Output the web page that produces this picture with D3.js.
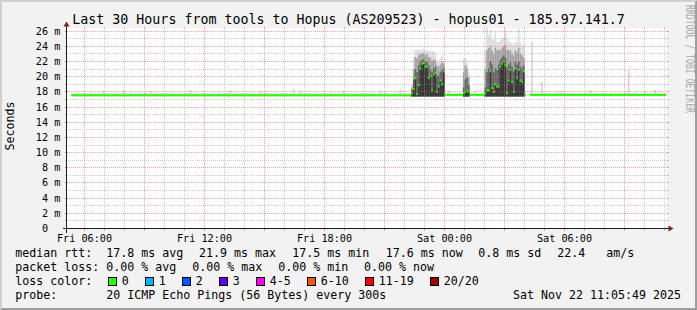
<!DOCTYPE html>
<html><head><meta charset="utf-8">
<script src="https://cdn.jsdelivr.net/npm/d3@7"></script>
<style>
html,body{margin:0;padding:0;background:#f2f2f2;}
svg{display:block;}
text{font-family:"DejaVu Sans Mono",monospace;white-space:pre;}
</style></head><body>
<svg id="chart" width="697" height="310"></svg>
<script>
// ---------------- data ----------------
const chartTitle = "Last 30 Hours from tools to Hopus (AS209523) - hopus01 - 185.97.141.7";
const yAxisTitle = "Seconds";
const watermark = "RRDTOOL / TOBI OETIKER";
const timeStart = "2025-11-21 05:05:49";
const timeEnd = "2025-11-22 11:05:49";
const stepSeconds = 300;
const yMaxMs = 26.35;
const yMajorTicks = [0, 2, 4, 6, 8, 10, 12, 14, 16, 18, 20, 22, 24, 26];
const yTickLabels = ["0  ", "2 m", "4 m", "6 m", "8 m", "10 m", "12 m", "14 m", "16 m", "18 m", "20 m", "22 m", "24 m", "26 m"];
const xLabelTimes = ["2025-11-21 06:00:00", "2025-11-21 12:00:00", "2025-11-21 18:00:00", "2025-11-22 00:00:00", "2025-11-22 06:00:00"];

// calm periods: one steady median and a thin smoke band
const calmFrom   = ["2025-11-21 05:20:00", "2025-11-22 00:00:00", "2025-11-22 01:15:00", "2025-11-22 04:00:00", "2025-11-22 04:15:00"];
const calmTo     = ["2025-11-21 22:20:00", "2025-11-22 00:55:00", "2025-11-22 02:00:00", "2025-11-22 04:05:00", "2025-11-22 11:05:00"];
const calmMedian = [17.55, 17.6, 17.6, 17.6, 17.6];
const calmMin    = [17.4, 17.4, 17.4, 17.4, 17.4];
const calmMax    = [17.85, 17.85, 17.85, 17.85, 17.85];

// single samples in calm periods with a higher max ping
const blipTimes = ["2025-11-21 06:55:00", "2025-11-21 07:55:00", "2025-11-21 09:15:00", "2025-11-21 11:15:00",
  "2025-11-21 13:15:00", "2025-11-21 14:45:00", "2025-11-21 16:25:00", "2025-11-21 16:45:00",
  "2025-11-21 18:55:00", "2025-11-21 20:45:00", "2025-11-21 21:45:00", "2025-11-22 00:10:00",
  "2025-11-22 01:30:00", "2025-11-22 04:20:00", "2025-11-22 04:50:00", "2025-11-22 05:45:00",
  "2025-11-22 07:15:00", "2025-11-22 09:10:00", "2025-11-22 10:00:00", "2025-11-22 10:30:00"];
const blipMax = [18.2, 18.2, 18.1, 18.3, 18.2, 18.1, 18.4, 18.2, 18.2, 18.2, 18.3, 18.2, 18.1, 24.6, 19.3, 18.1, 18.2, 20.9, 18.1, 18.3];

// high-latency bursts, 5-minute samples
const burstStart = ["2025-11-21 22:20:00", "2025-11-22 00:55:00", "2025-11-22 02:00:00"];
const burstMin = 17.4;
const burstMedian = [
  [17.8, 18.4, 19.8, 17.7, 18.9, 21.1, 21.7, 21.8, 21.3, 21.3, 19.8, 20.1, 18.2, 20.3, 20.5, 18.0, 18.7, 19.5, 19.0, 20.7],
  [17.8, 18.0, 18.2, 18.0],
  [17.8, 18.2, 18.2, 20.7, 18.5, 18.0, 19.0, 18.7, 18.7, 21.3, 21.7, 22.0, 21.5, 17.8, 19.5, 20.9, 19.3, 18.0, 21.1, 19.8, 20.9, 19.5, 19.3, 20.7]];
const burstQ75 = [
  [18.3, 19.6, 21.0, 20.6, 21.5, 22.0, 22.2, 22.3, 22.0, 22.0, 21.5, 21.0, 20.6, 21.1, 21.3, 20.0, 20.2, 20.6, 20.9, 21.1],
  [18.6, 19.6, 19.9, 18.9],
  [18.6, 20.6, 21.1, 22.0, 21.6, 20.6, 21.1, 20.9, 21.6, 22.2, 22.5, 22.8, 22.5, 21.1, 21.6, 21.9, 21.3, 20.6, 22.0, 21.6, 22.0, 21.3, 21.1, 21.5]];
const burstQ90 = [
  [18.6, 21.0, 22.6, 22.4, 22.8, 23.0, 23.0, 23.1, 22.8, 23.0, 22.6, 22.5, 22.1, 22.3, 22.1, 21.5, 21.3, 21.6, 21.9, 21.7],
  [20.6, 21.5, 21.1, 19.9],
  [21.0, 23.5, 23.8, 24.0, 23.5, 23.0, 23.8, 23.5, 23.6, 23.5, 23.8, 24.0, 24.2, 23.5, 23.5, 23.5, 23.0, 22.8, 23.5, 23.2, 23.8, 23.0, 22.8, 22.5]];
const burstMax = [
  [19.0, 22.6, 23.5, 23.6, 23.5, 23.6, 23.5, 23.7, 23.5, 23.6, 23.4, 23.5, 23.3, 23.4, 23.1, 22.1, 21.9, 22.4, 22.8, 22.1],
  [22.4, 22.5, 21.8, 20.6],
  [23.5, 26.6, 25.5, 26.2, 25.0, 24.8, 25.9, 24.6, 24.5, 24.8, 25.0, 25.2, 26.1, 25.0, 24.6, 24.5, 24.4, 24.2, 24.5, 24.6, 26.5, 24.5, 24.0, 24.3]];

// legend
const rttNames = ["avg", "max", "min", "now", "sd"];
const rttValues = [17.8, 21.9, 17.5, 17.6, 0.8];
const amsValue = 22.4;
const lossNames = ["avg", "max", "min", "now"];
const lossValues = [0.00, 0.00, 0.00, 0.00];
const lossLabels = ["0", "1", "2", "3", "4-5", "6-10", "11-19", "20/20"];
const lossColors = ["#26ff00", "#00b8ff", "#0059ff", "#5e00ff", "#ff00ff", "#ff5500", "#ff0000", "#a10000"];
const probeText = "20 ICMP Echo Pings (56 Bytes) every 300s";

// ---------------- drawing ----------------
const svg = d3.select("#chart");
const parseT = d3.timeParse("%Y-%m-%d %H:%M:%S");
const t0 = parseT(timeStart), t1 = parseT(timeEnd);
const X0 = 66.5, X1 = 666.5, Y0 = 228.5, Y1 = 28.5;
const x = d3.scaleTime().domain([t0, t1]).range([X0, X1]);
const y = d3.scaleLinear().domain([0, yMaxMs]).range([Y0, Y1]);
const px = v => Math.floor(v) + 0.5;

// background and border
svg.append("rect").attr("width", 697).attr("height", 310).attr("fill", "#f2f2f2");
svg.append("polygon").attr("points", "0,0 697,0 695,2 2,2 2,308 0,310").attr("fill", "#cfcfcf");
svg.append("polygon").attr("points", "697,0 697,310 0,310 2,308 695,308 695,2").attr("fill", "#9e9e9e");
svg.append("rect").attr("x", 67).attr("y", 28).attr("width", 600).attr("height", 200).attr("fill", "#ffffff");

svg.append("defs").append("clipPath").attr("id", "cv")
  .append("rect").attr("x", 67).attr("y", 28).attr("width", 600).attr("height", 200);
const plot = svg.append("g").attr("clip-path", "url(#cv)");

// calm smoke + blips
calmFrom.forEach((f, i) => {
  const a = parseT(f), b = parseT(calmTo[i]);
  plot.append("rect").attr("x", x(a)).attr("width", x(b) - x(a))
    .attr("y", y(calmMax[i])).attr("height", y(calmMin[i]) - y(calmMax[i])).attr("fill", "#dddddd");
});
blipTimes.forEach((s, i) => {
  const a = parseT(s), b = d3.timeSecond.offset(a, stepSeconds);
  plot.append("rect").attr("x", x(a)).attr("width", x(b) - x(a))
    .attr("y", y(blipMax[i])).attr("height", y(17.5) - y(blipMax[i])).attr("fill", "#d6d6d6");
});

// burst smoke layers
const layers = [[burstMax, "#dddddd"], [burstQ90, "#a4a4a4"], [burstQ75, "#666666"], [burstMedian, "#363636"]];
burstStart.forEach((s, b) => {
  const st = parseT(s);
  layers.forEach(([arr, col]) => {
    plot.append("g").selectAll("rect").data(arr[b]).join("rect")
      .attr("x", (d, i) => x(d3.timeSecond.offset(st, i * stepSeconds)))
      .attr("width", (d, i) => x(d3.timeSecond.offset(st, (i + 1) * stepSeconds)) - x(d3.timeSecond.offset(st, i * stepSeconds)))
      .attr("y", d => y(d)).attr("height", d => Math.max(0, y(burstMin) - y(d)))
      .attr("fill", col);
  });
});

// medians (colored by loss = 0)
calmFrom.forEach((f, i) => {
  const a = parseT(f), b = parseT(calmTo[i]);
  plot.append("rect").attr("x", x(a)).attr("width", x(b) - x(a))
    .attr("y", y(calmMedian[i]) - 1).attr("height", 2).attr("fill", lossColors[0]);
});
burstStart.forEach((s, b) => {
  const st = parseT(s);
  plot.append("g").selectAll("rect").data(burstMedian[b]).join("rect")
    .attr("x", (d, i) => x(d3.timeSecond.offset(st, i * stepSeconds)))
    .attr("width", (d, i) => x(d3.timeSecond.offset(st, (i + 1) * stepSeconds)) - x(d3.timeSecond.offset(st, i * stepSeconds)))
    .attr("y", d => y(d) - 1).attr("height", 2).attr("fill", lossColors[0]);
});

// grid (on top, semi transparent)
const minorCol = "rgba(143,143,143,0.45)", majorCol = "rgba(222,79,79,0.5)";
const grid = svg.append("g").attr("shape-rendering", "crispEdges");
const hours = d3.timeHour.range(t0, t1);
hours.forEach(h => {
  const gx = px(x(h));
  const major = h.getHours() % 3 === 0;
  const col = major ? majorCol : minorCol;
  grid.append("line").attr("x1", gx).attr("x2", gx).attr("y1", Y0 + 1).attr("y2", Y1 - 1)
    .attr("stroke", col).attr("stroke-dasharray", "1,1");
  grid.append("line").attr("x1", gx).attr("x2", gx).attr("y1", Y0).attr("y2", Y0 + 2).attr("stroke", col);
  grid.append("line").attr("x1", gx).attr("x2", gx).attr("y1", Y1 - 2).attr("y2", Y1).attr("stroke", col);
});
const yMinor = d3.range(1, Math.floor(yMaxMs) + 1).filter(v => !yMajorTicks.includes(v));
yMinor.forEach(v => {
  const gy = px(y(v));
  grid.append("line").attr("x1", X0 - 1).attr("x2", X1 + 1).attr("y1", gy).attr("y2", gy)
    .attr("stroke", minorCol).attr("stroke-dasharray", "1,1");
  grid.append("line").attr("x1", X0 - 2).attr("x2", X0).attr("y1", gy).attr("y2", gy).attr("stroke", minorCol);
  grid.append("line").attr("x1", X1).attr("x2", X1 + 2).attr("y1", gy).attr("y2", gy).attr("stroke", minorCol);
});
yMajorTicks.filter(v => v > 0).forEach(v => {
  const gy = px(y(v));
  grid.append("line").attr("x1", X0 - 2).attr("x2", X1 + 2).attr("y1", gy).attr("y2", gy)
    .attr("stroke", majorCol).attr("stroke-dasharray", "1,1");
  grid.append("line").attr("x1", X0 - 2).attr("x2", X0).attr("y1", gy).attr("y2", gy).attr("stroke", majorCol);
  grid.append("line").attr("x1", X1).attr("x2", X1 + 2).attr("y1", gy).attr("y2", gy).attr("stroke", majorCol);
});

// axes
const ax = svg.append("g").attr("shape-rendering", "crispEdges");
ax.append("line").attr("x1", X0 - 4).attr("x2", X1 + 4).attr("y1", Y0).attr("y2", Y0).attr("stroke", "#1f1f1f");
ax.append("line").attr("x1", X0).attr("x2", X0).attr("y1", Y0 + 4).attr("y2", Y1 - 4).attr("stroke", "#1f1f1f");
svg.append("polygon").attr("points", `${X1 + 2},${Y0 - 3} ${X1 + 2},${Y0 + 3} ${X1 + 7},${Y0}`).attr("fill", "#801f1f");
svg.append("polygon").attr("points", `${X0 - 3},${Y1 - 2} ${X0 + 3},${Y1 - 2} ${X0},${Y1 - 7}`).attr("fill", "#801f1f");

// axis labels
const axisFont = 10.2;
yMajorTicks.forEach((v, i) => {
  svg.append("text").attr("x", 60.3).attr("y", px(y(v)) + 3.6).attr("text-anchor", "end")
    .attr("font-size", axisFont).attr("fill", "#000").text(yTickLabels[i]);
});
const fmtX = d3.timeFormat("%a %H:%M");
xLabelTimes.forEach(s => {
  const t = parseT(s);
  svg.append("text").attr("x", px(x(t))).attr("y", 241.5).attr("text-anchor", "middle")
    .attr("font-size", axisFont).attr("fill", "#000").text(fmtX(t));
});

// title, vertical label, watermark
svg.append("text").attr("x", 348.5).attr("y", 24).attr("text-anchor", "middle")
  .attr("font-size", 13.3).attr("fill", "#000").text(chartTitle);
svg.append("text").attr("transform", "translate(14,126) rotate(-90)").attr("text-anchor", "middle")
  .attr("font-size", 11.63).attr("fill", "#000").text(yAxisTitle);
svg.append("text").attr("transform", "translate(685.5,5) rotate(90)")
  .attr("font-size", 12).attr("textLength", 108).attr("lengthAdjust", "spacingAndGlyphs")
  .attr("fill", "#a9a9a9").text(watermark);

// legend
const lf = 11.63;
const leg = svg.append("g").attr("font-size", lf).attr("fill", "#000");
const row = (yb, items) => items.forEach(([t, xx]) => leg.append("text").attr("x", xx).attr("y", yb).text(t));
const rttX = [106.3, 199, 292.3, 385.7, 478.3];
row(257, [["median rtt:", 15.3]].concat(rttValues.map((v, i) => [`${v.toFixed(1)} ms ${rttNames[i]}`, rttX[i]]))
  .concat([[amsValue.toFixed(1), 557.3], ["am/s", 606.3]]));
const lossX = [106.3, 192.3, 278.3, 364];
row(271, [["packet loss:", 15.3]].concat(lossValues.map((v, i) => [`${v.toFixed(2)} % ${lossNames[i]}`, lossX[i]])));
row(285.3, [["loss color:", 15.3]]);
let bx = 108;
lossLabels.forEach((lab, i) => {
  leg.append("rect").attr("x", bx + 0.5).attr("y", 277.5).attr("width", 8).attr("height", 8)
    .attr("fill", lossColors[i]).attr("stroke", "#000").attr("stroke-width", 1);
  const tx = bx + 13.8;
  leg.append("text").attr("x", tx).attr("y", 285.3).text(lab);
  bx = tx + lab.length * 7 + 16.2;
});
row(299.3, [["probe:", 15.3], [probeText, 106.3]]);
leg.append("text").attr("x", 681).attr("y", 299.3).attr("text-anchor", "end")
  .text(d3.timeFormat("%a %b %d %H:%M:%S %Y")(t1));
</script>
</body></html>
